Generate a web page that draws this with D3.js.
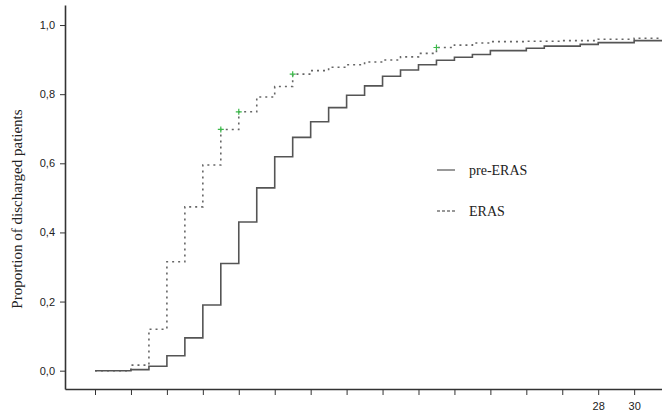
<!DOCTYPE html>
<meta charset="utf-8">
<style>
body { margin: 0; background: #fff; }
.axis path, .axis line { stroke: #333; }
.axis text { font-family: Arial, "Liberation Sans", sans-serif; font-size: 11px; fill: #222; }
.title, .legend text { font-family: "Liberation Serif", "Times New Roman", serif; fill: #222; }
</style>
<svg width="662" height="415"></svg>
<script src="https://d3js.org/d3.v7.min.js"></script>
<script>
// days and proportions
var preDays   = [0, 2, 3, 4, 5, 6, 7, 8, 9, 10, 11, 12, 13, 14, 15, 16, 17, 18, 19, 20, 21, 22, 24, 25, 27, 28, 30, 31.6];
var preValues = [0, 0.003, 0.013, 0.043, 0.095, 0.19, 0.31, 0.43, 0.529, 0.619, 0.675, 0.72, 0.761, 0.797, 0.824, 0.852, 0.87, 0.885, 0.898, 0.907, 0.915, 0.926, 0.933, 0.939, 0.944, 0.949, 0.955, 0.957];

var erasDays   = [0, 2, 3, 4, 5, 6, 7, 8, 9, 10, 11, 12, 13, 14, 15, 16, 17, 18, 19, 20, 21, 22, 24, 26, 28, 30, 31.6];
var erasValues = [0, 0.016, 0.12, 0.315, 0.474, 0.595, 0.698, 0.749, 0.792, 0.822, 0.858, 0.868, 0.878, 0.885, 0.893, 0.899, 0.908, 0.918, 0.935, 0.942, 0.948, 0.952, 0.953, 0.955, 0.959, 0.962, 0.964];

// censored points on the ERAS curve
var censorDays   = [7, 8, 11, 19];
var censorValues = [0.698, 0.749, 0.858, 0.935];

var xTicks = d3.range(0, 31, 2);
var xLabels = { 28: "28", 30: "30" };
var yTicks = [0, 0.2, 0.4, 0.6, 0.8, 1.0];

var svg = d3.select("svg");

var x = d3.scaleLinear().domain([-1.67, 31.55]).range([65, 662]);
var y = d3.scaleLinear().domain([-0.053, 1.058]).range([389, 5]);

// axes
svg.append("g")
    .attr("class", "axis")
    .attr("transform", "translate(0,389)")
    .call(d3.axisBottom(x).tickValues(xTicks).tickSize(6).tickSizeOuter(0)
      .tickFormat(function(d) { return xLabels[d] || ""; }))
    .call(function(g) { g.select(".domain").attr("stroke-width", 1.6); })
    .selectAll("text").attr("dy", "1.1em");

svg.append("g")
    .attr("class", "axis")
    .attr("transform", "translate(65,0)")
    .call(d3.axisLeft(y).tickValues(yTicks).tickSize(5).tickSizeOuter(0)
      .tickFormat(function(d) { return d3.format(".1f")(d).replace(".", ","); }))
    .call(function(g) { g.select(".domain").attr("stroke-width", 1.6); })
    .selectAll("text").attr("x", -10);

// step curves
var line = d3.line()
    .x(function(d) { return x(d[0]); })
    .y(function(d) { return y(d[1]); })
    .curve(d3.curveStepAfter);

svg.append("path")
    .datum(d3.zip(erasDays, erasValues))
    .attr("d", line)
    .style("fill", "none")
    .style("stroke", "#666")
    .style("stroke-width", 1.6)
    .style("stroke-dasharray", "2,4");

svg.append("path")
    .datum(d3.zip(preDays, preValues))
    .attr("d", line)
    .style("fill", "none")
    .style("stroke", "#555")
    .style("stroke-width", 1.6);

// censor marks
svg.append("g")
  .selectAll("path")
  .data(d3.zip(censorDays, censorValues))
  .enter().append("path")
    .attr("d", function(d) {
      var cx = x(d[0]), cy = y(d[1]);
      return "M" + (cx - 3) + "," + cy + "H" + (cx + 3) + "M" + cx + "," + (cy - 3) + "V" + (cy + 3);
    })
    .style("stroke", "#3cb94a")
    .style("stroke-width", 1.2);

// y title
svg.append("text")
    .attr("class", "title")
    .attr("transform", "translate(22,209) rotate(-90)")
    .attr("text-anchor", "middle")
    .style("font-size", "15px")
    .text("Proportion of discharged patients");

// legend
var legend = svg.append("g").attr("class", "legend");
legend.append("line")
    .attr("x1", 437).attr("x2", 455).attr("y1", 170).attr("y2", 170)
    .style("stroke", "#555").style("stroke-width", 1.2);
legend.append("text").attr("x", 469).attr("y", 175).style("font-size", "14px").text("pre-ERAS");
legend.append("line")
    .attr("x1", 437).attr("x2", 455).attr("y1", 211).attr("y2", 211)
    .style("stroke", "#333").style("stroke-width", 1.2).style("stroke-dasharray", "3,2");
legend.append("text").attr("x", 469).attr("y", 216).style("font-size", "14px").text("ERAS");
</script>
